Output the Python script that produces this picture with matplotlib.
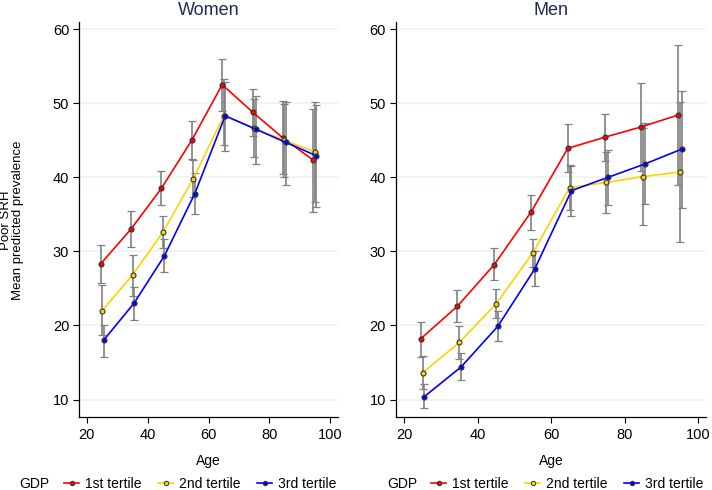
import numpy as np
import matplotlib
matplotlib.use('Agg')
import matplotlib.pyplot as plt
from matplotlib.lines import Line2D

plt.rcParams['font.family'] = ['Liberation Sans', 'DejaVu Sans']

ages = np.array([25, 35, 45, 55, 65, 75, 85, 95])
tertiles = ['1st tertile', '2nd tertile', '3rd tertile']

# Women: mean predicted prevalence and 95% CI, per GDP tertile
women_mean = [
    [28.3, 33.0, 38.5, 45.0, 52.5, 48.8, 45.3, 42.3],
    [22.0, 26.8, 32.6, 39.8, 48.3, 46.6, 45.0, 43.4],
    [18.0, 23.0, 29.4, 37.8, 48.3, 46.5, 44.7, 42.9],
]
women_lo = [
    [25.7, 30.6, 36.2, 42.4, 49.0, 45.6, 40.4, 35.3],
    [18.7, 24.0, 30.4, 37.3, 44.3, 42.8, 40.1, 36.6],
    [15.8, 20.8, 27.2, 35.0, 43.6, 41.8, 38.9, 36.0],
]
women_hi = [
    [30.9, 35.4, 40.9, 47.6, 55.9, 51.9, 50.3, 49.2],
    [25.4, 29.5, 34.8, 42.3, 53.2, 50.5, 49.9, 50.1],
    [20.1, 25.2, 31.7, 40.6, 52.8, 51.0, 50.1, 49.8],
]

# Men
men_mean = [
    [18.2, 22.6, 28.2, 35.3, 43.9, 45.4, 46.8, 48.4],
    [13.6, 17.7, 22.9, 29.8, 38.6, 39.3, 40.1, 40.7],
    [10.4, 14.4, 19.9, 27.6, 38.2, 40.0, 41.8, 43.8],
]
men_lo = [
    [15.8, 20.5, 26.1, 32.9, 40.7, 42.2, 40.9, 39.0],
    [11.4, 15.5, 21.0, 27.9, 35.6, 35.2, 33.5, 31.3],
    [8.8, 12.6, 17.9, 25.3, 34.8, 36.2, 36.4, 35.8],
]
men_hi = [
    [20.4, 24.8, 30.4, 37.6, 47.2, 48.5, 52.7, 57.8],
    [15.9, 19.9, 24.9, 31.7, 41.6, 43.4, 46.7, 50.2],
    [12.1, 16.3, 21.9, 30.0, 41.5, 43.7, 47.3, 51.7],
]

colors = ['#ff0000', '#ffd200', '#0000ff']
dodge = [-0.5, 0.0, 0.5]


def draw_panel(ax, title, means, los, his, xlim):
    for k in range(3):
        x = ages + dodge[k]
        m = np.array(means[k])
        err = [m - np.array(los[k]), np.array(his[k]) - m]
        _, caps, _ = ax.errorbar(x, m, yerr=err, fmt='none', ecolor='#808080',
                                 elinewidth=1.2, capsize=3, capthick=0.9, zorder=2)
        for c in caps:
            c.set_color('#333333')
        ax.plot(x, m, color=colors[k], lw=1.2, marker='o', ms=3.6,
                mfc=colors[k], mec='#333333', mew=0.8, zorder=3)

    ax.set_xlim(*xlim)
    ax.set_ylim(7.6, 61.0)
    ax.set_xticks([20, 40, 60, 80, 100])
    ax.set_yticks([10, 20, 30, 40, 50, 60])
    ax.yaxis.grid(True, color='#eaf2f3', lw=1.1)
    ax.set_axisbelow(True)
    for s in ['top', 'right']:
        ax.spines[s].set_visible(False)
    for s in ['left', 'bottom']:
        ax.spines[s].set_linewidth(0.9)
    ax.tick_params(labelsize=10.5, length=4, width=0.8)
    ax.tick_params(axis='x', pad=4)
    ax.tick_params(axis='y', pad=3)
    ax.set_title(title, fontsize=13, color='#1e2d4f', pad=5)
    ax.set_xlabel('Age', fontsize=10, labelpad=8)


fig = plt.figure(figsize=(7.12, 4.9), dpi=100)
ax1 = fig.add_axes([79 / 712, 1 - 417.3 / 490, 259 / 712, 395.6 / 490])
ax2 = fig.add_axes([395.7 / 712, 1 - 417.3 / 490, 310.3 / 712, 395.6 / 490])
draw_panel(ax1, 'Women', women_mean, women_lo, women_hi, (17.4, 102.6))
draw_panel(ax2, 'Men', men_mean, men_lo, men_hi, (17.7, 102.1))

fig.text(6 / 712, 1 - 220 / 490, 'Poor SRH', rotation=90,
         ha='center', va='center', fontsize=9.5)
fig.text(18.5 / 712, 1 - 220 / 490, 'Mean predicted prevalence', rotation=90,
         ha='center', va='center', fontsize=9.5)

handles = [Line2D([], [], color=c, lw=1.2, marker='o', ms=3.2, mfc=c, mec='#333333', mew=0.7)
           for c in colors]
for gx, lx in [(19, 200.5), (387, 567.5)]:
    fig.text(gx / 712, 1 - 484 / 490, 'GDP', ha='left', va='center', fontsize=10)
    fig.legend(handles, tertiles, loc='center', bbox_to_anchor=(lx / 712, 1 - 484 / 490),
               ncol=3, frameon=False, fontsize=10, handlelength=1.08, handletextpad=0.43,
               columnspacing=1.2, borderpad=0, borderaxespad=0)

fig.savefig('out.png', dpi=100)
